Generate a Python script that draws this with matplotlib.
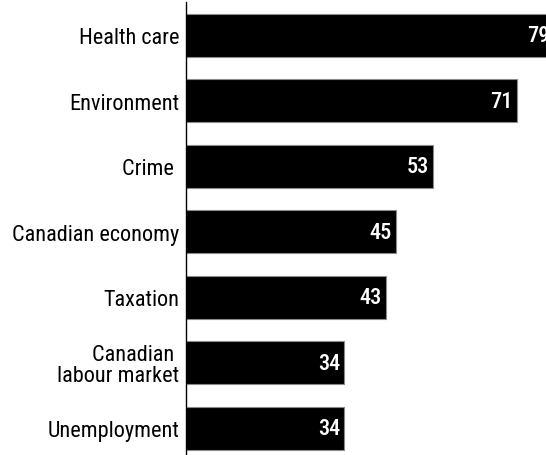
import matplotlib
matplotlib.use("Agg")
import matplotlib.pyplot as plt

# Data (top to bottom as in the chart)
categories = ["Health care", "Environment", "Crime ", "Canadian economy",
              "Taxation", "Canadian \nlabour market", "Unemployment"]
values = [79, 71, 53, 45, 43, 34, 34]

plt.rcParams['font.family'] = ['Roboto Condensed', 'DejaVu Sans']

fig = plt.figure(figsize=(5.46, 4.56), dpi=100)
ax = fig.add_axes([186 / 546, 0, 360 / 546, 453 / 456])

n = len(categories)
ypos = list(range(n - 1, -1, -1))
ax.barh(ypos, values, height=0.656, color='black',
        edgecolor='#8a8a8a', linewidth=0.8)

# value labels inside the bar ends
for y, v in zip(ypos, values):
    ax.annotate(str(v), xy=(v, y), xytext=(-3, 0), textcoords='offset points',
                ha='right', va='center', color='white', fontsize=16,
                fontweight='medium', annotation_clip=False)

ax.set_xlim(0, 77.3)
ax.set_ylim(-0.405, 6.51)
ax.set_yticks(ypos)
ax.set_yticklabels(categories, fontsize=16, linespacing=1.0, fontweight='normal')
ax.tick_params(axis='y', length=0, pad=5)
ax.set_xticks([])
for side in ['top', 'right', 'bottom']:
    ax.spines[side].set_visible(False)
ax.spines['left'].set_linewidth(1.0)

fig.savefig("out.png", dpi=100)
